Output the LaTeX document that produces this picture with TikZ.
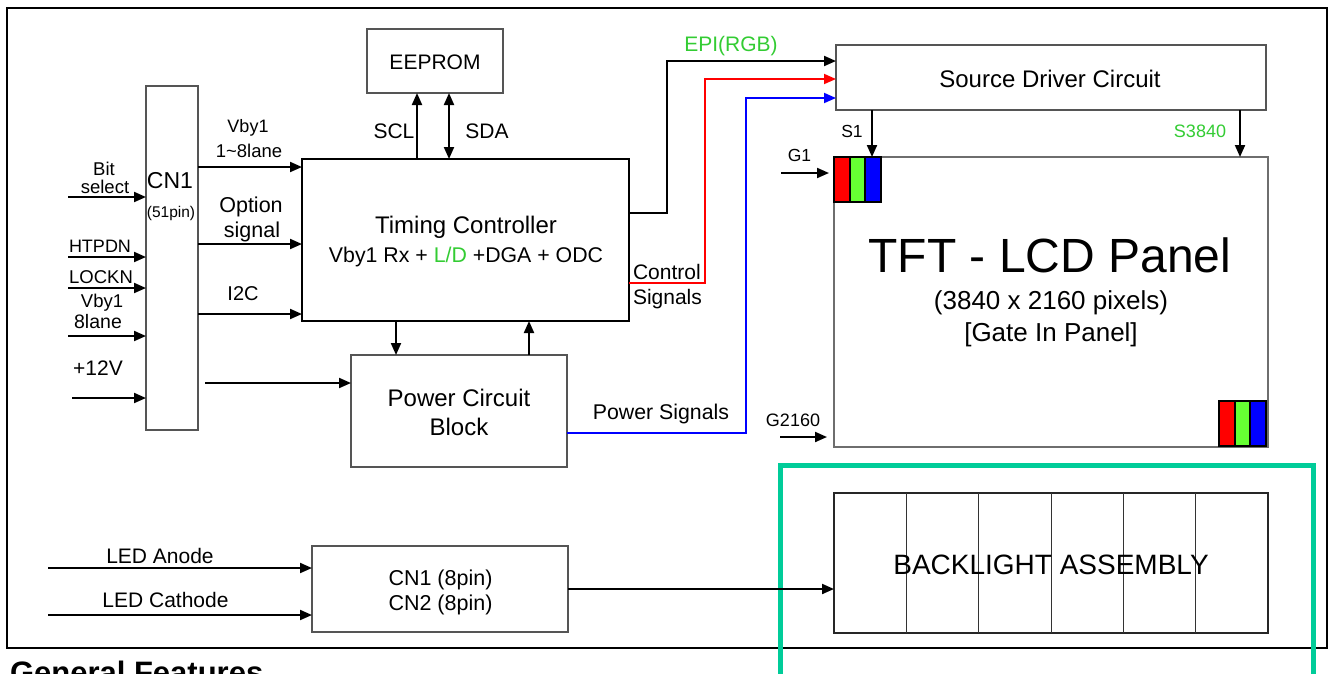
\documentclass[tikz,border=0pt]{standalone}
\usepackage{fontspec}
\setmainfont{Liberation Sans}
\usetikzlibrary{arrows.meta}
\definecolor{tealg}{RGB}{0,204,153}
\definecolor{lgreen}{RGB}{51,204,51}
\definecolor{sgreen}{RGB}{102,255,51}
\definecolor{bordergray}{RGB}{85,85,85}
\definecolor{panelgray}{RGB}{110,110,110}
\newcommand{\fsz}[1]{\fontsize{#1}{#1}\selectfont}
\begin{document}
\begin{tikzpicture}[x=1pt,y=-1pt,
  box/.style={draw=bordergray, line width=1.4pt, inner sep=0pt, outer sep=0pt, rectangle},
  lbl/.style={anchor=base, inner sep=0pt, outer sep=0pt},
  tip/.style={-{Triangle[length=12pt,width=10pt]}},
  conn/.style={line width=2pt, tip},
  stripe/.style={draw=black, line width=1.8pt}]
\useasboundingbox (0,0) rectangle (1330,673);
\clip (0,0) rectangle (1330,673);
\fill[white] (0,0) rectangle (1330,673);

% outer frame
\node[draw=black, line width=2.5pt, inner sep=0pt, minimum width=1320pt, minimum height=640pt] (frame) at (667,328) {};

% boxes
\node[box, minimum width=52pt, minimum height=344pt] (cn1) at (172,258) {};
\node[draw=black, line width=2.5pt, inner sep=0pt, outer sep=0pt, minimum width=327pt, minimum height=162pt] (tc) at (465.5,240) {};
\node[box, minimum width=136pt, minimum height=64pt] (eeprom) at (435,61) {};
\node[box, minimum width=216pt, minimum height=112pt] (pcb) at (459,411) {};
\node[box, minimum width=430pt, minimum height=65pt] (src) at (1051,77.5) {};
\node[draw=panelgray, line width=2pt, inner sep=0pt, outer sep=0pt, minimum width=434pt, minimum height=290pt] (panel) at (1051,302) {};
\node[box, draw=black!85, minimum width=434pt, minimum height=140pt] (bl) at (1051,563) {};
\node[box, minimum width=256pt, minimum height=86pt] (cn8) at (440,589) {};

% backlight columns
\foreach \xx in {906.5,978.5,1051,1123,1195.5}
  \draw[line width=1pt, black!80] (\xx,493) -- (\xx,633);

% RGB pixel blocks
\filldraw[stripe, fill=red] (834,157) rectangle (849.7,202);
\filldraw[stripe, fill=sgreen] (849.7,157) rectangle (865.3,202);
\filldraw[stripe, fill=blue] (865.3,157) rectangle (881,202);
\filldraw[stripe, fill=red] (1219,401) rectangle (1234.7,446);
\filldraw[stripe, fill=sgreen] (1234.7,401) rectangle (1250.3,446);
\filldraw[stripe, fill=blue] (1250.3,401) rectangle (1266,446);

% teal frame
\draw[tealg, line width=5pt] (780,700) -- (780,465) -- (1313,465) -- (1313,700);

% box texts
\node[lbl] (teeprom) at (435,69) {\fsz{21}EEPROM};
\node[lbl] (ttc1) at (466,233) {\fsz{24}Timing Controller};
\node[lbl] (ttc2) at (466,262) {\fsz{21.3}Vby1 Rx + {\color{lgreen}L/D} +DGA + ODC};
\node[lbl] (tpcb1) at (459,406) {\fsz{24}Power Circuit};
\node[lbl] (tpcb2) at (459,435) {\fsz{24}Block};
\node[lbl] (tsrc) at (1050,87) {\fsz{24}Source Driver Circuit};
\node[lbl] (tpan1) at (1050,272) {\fsz{48}TFT - LCD Panel};
\node[lbl] (tpan2) at (1051,309) {\fsz{26}(3840 x 2160 pixels)};
\node[lbl] (tpan3) at (1051,341) {\fsz{26}[Gate In Panel]};
\node[lbl] (tbl) at (1051,574) {\fsz{28}BACKLIGHT ASSEMBLY};
\node[lbl] (tcn81) at (440.5,585) {\fsz{21.5}CN1 (8pin)};
\node[lbl] (tcn82) at (440.5,610) {\fsz{21.5}CN2 (8pin)};
\node[lbl] (tcn1) at (170,188) {\fsz{23}CN1};
\node[lbl] (tcn1b) at (171,217) {\fsz{15.5}(51pin)};

% left labels
\node[lbl] (lbit) at (104,175) {\fsz{18.5}Bit};
\node[lbl] (lsel) at (105,193) {\fsz{18.5}select};
\node[lbl] (lhtp) at (100,252) {\fsz{18}HTPDN};
\node[lbl] (llock) at (101,283) {\fsz{18.5}LOCKN};
\node[lbl] (lvby) at (102,307) {\fsz{18.5}Vby1};
\node[lbl] (llane) at (98,328) {\fsz{19.5}8lane};
\node[lbl] (l12) at (98,375) {\fsz{21}+12V};
\node[lbl] (rvby) at (248,132) {\fsz{18}Vby1};
\node[lbl] (rlane) at (249,157) {\fsz{18.5}1\char`~8lane};
\node[lbl] (ropt) at (251,212) {\fsz{21.5}Option};
\node[lbl] (rsig) at (252,237) {\fsz{21.5}signal};
\node[lbl] (ri2c) at (243,300) {\fsz{20}I2C};
\node[lbl] (lscl) at (394,138) {\fsz{21}SCL};
\node[lbl] (lsda) at (487,138) {\fsz{21}SDA};
\node[lbl, text=lgreen] (lepi) at (731,51) {\fsz{21}EPI(RGB)};
\node[lbl, anchor=base west] (lctl) at (633,279) {\fsz{21}Control};
\node[lbl, anchor=base west] (lsig) at (633,304) {\fsz{21}Signals};
\node[lbl] (lpow) at (661,419) {\fsz{21.3}Power Signals};
\node[lbl] (lg1) at (799.5,161) {\fsz{17.5}G1};
\node[lbl] (lg2) at (793,426) {\fsz{18}G2160};
\node[lbl] (ls1) at (852,137) {\fsz{17.5}S1};
\node[lbl, text=lgreen] (ls2) at (1200,137) {\fsz{18}S3840};
\node[lbl] (lanode) at (160,563) {\fsz{21}LED Anode};
\node[lbl] (lcath) at (165.5,607) {\fsz{21}LED Cathode};
\node[lbl, anchor=base west] (gf) at (10,683) {\fsz{31}\bfseries General Features};

% free ends
\coordinate (inBit) at (68,197);
\coordinate (inHtp) at (68,257);
\coordinate (inLock) at (68,288);
\coordinate (inLane) at (68,336);
\coordinate (in12) at (72,398);
\coordinate (pwrIn) at (205,383);
\coordinate (inG1) at (781,173);
\coordinate (inG2) at (780,437);
\coordinate (inAn) at (48,568);
\coordinate (inCa) at (48,615);

% connectors into CN1
\draw[conn] (inBit) -- (inBit -| cn1.west);
\draw[conn] (inHtp) -- (inHtp -| cn1.west);
\draw[conn] (inLock) -- (inLock -| cn1.west);
\draw[conn] (inLane) -- (inLane -| cn1.west);
\draw[conn] (in12) -- (in12 -| cn1.west);

% CN1 -> TC
\draw[conn] (cn1.east |- 0,167) -- (tc.west |- 0,167);
\draw[conn] (cn1.east |- 0,244) -- (tc.west |- 0,244);
\draw[conn] (cn1.east |- 0,314) -- (tc.west |- 0,314);
\draw[conn] (pwrIn) -- (pwrIn -| pcb.west);

% EEPROM
\draw[conn] (tc.north -| 417,0) -- (eeprom.south -| 417,0);
\draw[line width=2pt, {Triangle[length=12pt,width=10pt]}-{Triangle[length=12pt,width=10pt]}] (tc.north -| 449,0) -- (eeprom.south -| 449,0);

% TC <-> PCB
\draw[conn] (tc.south -| 396,0) -- (pcb.north -| 396,0);
\draw[conn] (pcb.north -| 529,0) -- (tc.south -| 529,0);

% to source driver
\draw[conn] (tc.east |- 0,213) -- (667,213) -- (667,61) -- (src.west |- 0,61);
\draw[conn, red, line width=1.8pt] (tc.east |- 0,283) -- (705,283) -- (705,79) -- (src.west |- 0,79);
\draw[conn, blue, line width=1.8pt] (pcb.east |- 0,433) -- (746,433) -- (746,98) -- (src.west |- 0,98);

% source -> panel
\draw[conn] (src.south -| 872,0) -- (panel.north -| 872,0);
\draw[conn] (src.south -| 1240,0) -- (panel.north -| 1240,0);

% gate inputs
\draw[conn] (inG1) -- (829,173);
\draw[conn] (inG2) -- (827,437);

% LED
\draw[conn] (inAn) -- (inAn -| cn8.west);
\draw[conn] (inCa) -- (inCa -| cn8.west);
\draw[conn] (cn8.east) -- (bl.west |- cn8.east);
\end{tikzpicture}
\end{document}
